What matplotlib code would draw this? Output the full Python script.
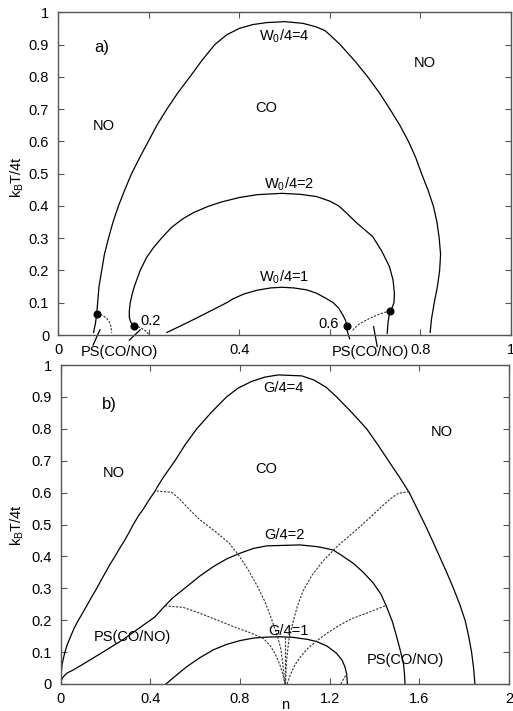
import matplotlib
matplotlib.use("Agg")
import matplotlib.pyplot as plt

plt.rcParams['font.family'] = ['Liberation Sans', 'DejaVu Sans']
plt.rcParams['mathtext.fontset'] = 'custom'
plt.rcParams['mathtext.rm'] = 'Liberation Sans'
plt.rcParams['mathtext.it'] = 'Liberation Sans'
plt.rcParams['font.size'] = 10.5

# ---------------- panel a) data ----------------
a_w4_x = [0.078, 0.082, 0.085, 0.087, 0.09, 0.096, 0.102, 0.111, 0.121, 0.133, 0.147, 0.162, 0.18,
          0.199, 0.218, 0.24, 0.264, 0.291, 0.317, 0.346, 0.372, 0.40, 0.43, 0.46, 0.50, 0.54,
          0.57, 0.59, 0.608, 0.623, 0.655, 0.684, 0.71, 0.733, 0.755, 0.774, 0.79, 0.803, 0.817,
          0.829, 0.837, 0.842, 0.845, 0.843, 0.838, 0.831, 0.825, 0.822]
a_w4_y = [0.008, 0.035, 0.065, 0.1, 0.15, 0.2, 0.25, 0.3, 0.35, 0.4, 0.45, 0.5, 0.55,
          0.6, 0.65, 0.7, 0.75, 0.8, 0.85, 0.9, 0.93, 0.95, 0.962, 0.968, 0.971, 0.966,
          0.955, 0.943, 0.92, 0.9, 0.85, 0.8, 0.75, 0.7, 0.65, 0.6, 0.55, 0.5, 0.45,
          0.4, 0.35, 0.3, 0.25, 0.2, 0.15, 0.1, 0.05, 0.008]
a_w2_x = [0.168, 0.16, 0.157, 0.157, 0.159, 0.163, 0.168, 0.181, 0.195, 0.21, 0.228, 0.25, 0.275,
          0.30, 0.33, 0.36, 0.40, 0.44, 0.494, 0.535, 0.571, 0.60, 0.62, 0.637, 0.66, 0.695, 0.715,
          0.732, 0.74, 0.743, 0.742, 0.738, 0.733, 0.729, 0.727]
a_w2_y = [0.028, 0.04, 0.055, 0.075, 0.1, 0.125, 0.15, 0.2, 0.24, 0.27, 0.3, 0.333, 0.36,
          0.38, 0.398, 0.412, 0.426, 0.435, 0.439, 0.436, 0.429, 0.415, 0.40, 0.378, 0.347, 0.305, 0.26,
          0.212, 0.17, 0.129, 0.1, 0.085, 0.075, 0.04, 0.005]
a_w1_x = [0.24, 0.27, 0.302, 0.34, 0.372, 0.386, 0.41, 0.44, 0.47, 0.494, 0.52, 0.549, 0.57,
          0.59, 0.608, 0.62, 0.629, 0.635, 0.638]
a_w1_y = [0.008, 0.028, 0.05, 0.077, 0.1, 0.112, 0.127, 0.139, 0.146, 0.148, 0.146, 0.14, 0.13,
          0.115, 0.1, 0.083, 0.062, 0.045, 0.028]

a_dash1_x = [0.085, 0.097, 0.107, 0.113, 0.1165, 0.118]
a_dash1_y = [0.065, 0.061, 0.052, 0.04, 0.026, 0.007]
a_dash2_x = [0.168, 0.18, 0.188, 0.195, 0.2]
a_dash2_y = [0.028, 0.024, 0.018, 0.01, 0.002]
a_dash3_x = [0.733, 0.71, 0.689, 0.667, 0.655, 0.649]
a_dash3_y = [0.075, 0.065, 0.052, 0.036, 0.022, 0.01]

a_dot_x = [0.085, 0.168, 0.638, 0.733]
a_dot_y = [0.065, 0.028, 0.028, 0.075]

a_ptr_x = [[0.077, 0.092], [0.157, 0.181], [0.644, 0.638], [0.705, 0.697]]
a_ptr_y = [[-0.031, 0.016], [-0.016, 0.016], [-0.012, 0.016], [-0.036, 0.026]]

a_xticks = [0, 0.2, 0.4, 0.6, 0.8, 1.0]
a_xticklabels = ['0', '', '0.4', '', '0.8', '1']

# ---------------- panel b) data ----------------
b_g4_x = [0.0, 0.002, 0.006, 0.012, 0.019, 0.03, 0.045, 0.06, 0.079, 0.1, 0.12, 0.14, 0.161, 0.18,
          0.2, 0.22, 0.242, 0.263, 0.285, 0.305, 0.324, 0.345, 0.37, 0.395, 0.421, 0.44, 0.46,
          0.485, 0.51, 0.555, 0.607, 0.67, 0.74, 0.79, 0.85, 0.91, 0.971, 1.075, 1.13, 1.185,
          1.231, 1.3, 1.365, 1.415, 1.462, 1.51, 1.555, 1.59, 1.625, 1.658, 1.69, 1.722, 1.752,
          1.78, 1.804, 1.82, 1.833, 1.842, 1.848]
b_g4_y = [0.0, 0.03, 0.06, 0.08, 0.1, 0.125, 0.15, 0.175, 0.2, 0.225, 0.25, 0.275, 0.3, 0.325,
          0.35, 0.375, 0.4, 0.425, 0.45, 0.475, 0.5, 0.525, 0.55, 0.578, 0.605, 0.628, 0.65,
          0.675, 0.7, 0.75, 0.8, 0.85, 0.9, 0.927, 0.948, 0.962, 0.969, 0.966, 0.953, 0.93,
          0.9, 0.85, 0.8, 0.75, 0.7, 0.65, 0.6, 0.55, 0.5, 0.45, 0.4, 0.35, 0.3,
          0.25, 0.2, 0.15, 0.1, 0.05, 0.0]
b_g2_x = [0.0, 0.003, 0.012, 0.03, 0.056, 0.09, 0.13, 0.2, 0.28, 0.36, 0.42, 0.465, 0.5, 0.562,
          0.62, 0.681, 0.74, 0.8, 0.86, 0.919, 1.068, 1.15, 1.216, 1.26, 1.306, 1.35, 1.395, 1.43,
          1.454, 1.48, 1.499, 1.515, 1.529, 1.534, 1.536]
b_g2_y = [0.0, 0.012, 0.023, 0.035, 0.044, 0.058, 0.075, 0.105, 0.14, 0.18, 0.21, 0.245, 0.27, 0.305,
          0.338, 0.368, 0.392, 0.41, 0.425, 0.433, 0.436, 0.43, 0.42, 0.4, 0.378, 0.35, 0.316, 0.28,
          0.242, 0.195, 0.148, 0.105, 0.065, 0.03, 0.0]
b_g1_x = [0.47, 0.52, 0.562, 0.62, 0.681, 0.74, 0.8, 0.86, 0.919, 0.98, 1.038, 1.1, 1.142, 1.19,
          1.231, 1.255, 1.268, 1.276, 1.279]
b_g1_y = [0.0, 0.03, 0.054, 0.082, 0.107, 0.124, 0.136, 0.144, 0.147, 0.148, 0.146, 0.14, 0.133, 0.118,
          0.096, 0.075, 0.054, 0.03, 0.0]

b_d1_x = [0.428, 0.495, 0.53, 0.57, 0.622, 0.69, 0.75, 0.795, 0.837, 0.875, 0.91, 0.94, 0.967, 0.982, 0.99, 1.0]
b_d1_y = [0.605, 0.601, 0.58, 0.55, 0.514, 0.478, 0.443, 0.403, 0.357, 0.31, 0.26, 0.205, 0.15, 0.11, 0.07, 0.0]
b_d2_x = [1.555, 1.506, 1.47, 1.44, 1.335, 1.231, 1.17, 1.12, 1.08, 1.055, 1.035, 1.018, 1.007, 1.003]
b_d2_y = [0.603, 0.598, 0.58, 0.561, 0.493, 0.43, 0.385, 0.34, 0.29, 0.242, 0.19, 0.138, 0.07, 0.0]
b_d3_x = [0.465, 0.547, 0.62, 0.70, 0.77, 0.84, 0.904, 0.935, 0.96, 0.978, 0.993, 1.0]
b_d3_y = [0.245, 0.24, 0.222, 0.2, 0.18, 0.162, 0.143, 0.12, 0.09, 0.06, 0.025, 0.0]
b_d4_x = [1.447, 1.365, 1.3, 1.246, 1.19, 1.142, 1.1, 1.07, 1.045, 1.025, 1.01]
b_d4_y = [0.245, 0.222, 0.205, 0.185, 0.16, 0.135, 0.11, 0.085, 0.06, 0.03, 0.0]
b_d5_x = [1.0, 1.0]
b_d5_y = [0.146, 0.0]
b_d6_x = [1.25, 1.262, 1.278]
b_d6_y = [0.0, 0.016, 0.034]

b_xticks = [0, 0.4, 0.8, 1.2, 1.6, 2.0]
b_xticklabels = ['0', '0.4', '0.8', '1.2', '1.6', '2']

yticks = [0, 0.1, 0.2, 0.3, 0.4, 0.5, 0.6, 0.7, 0.8, 0.9, 1.0]
yticklabels = ['0', '0.1', '0.2', '0.3', '0.4', '0.5', '0.6', '0.7', '0.8', '0.9', '1']

# ---------------- figure ----------------
fig = plt.figure(figsize=(5.13, 7.11), dpi=100)
ax1 = fig.add_axes([0.1136, 0.5288, 0.8819, 0.4539])
ax2 = fig.add_axes([0.1183, 0.038, 0.8739, 0.4486])

solid = dict(color='black', lw=0.9)
dash = dict(color='#333333', lw=0.8, ls=(0, (2.0, 1.3)))
spine_col = '#555555'


def style(ax, xlim, xticks, xlabels):
    ax.set_xlim(*xlim)
    ax.set_ylim(0, 1)
    ax.set_xticks(xticks)
    ax.set_xticklabels(xlabels)
    ax.set_yticks(yticks)
    ax.set_yticklabels(yticklabels)
    ax.tick_params(direction='in', top=True, right=True, length=4, width=0.8,
                   color=spine_col, labelsize=10.5)
    ax.tick_params(axis='y', pad=6.5)
    ax.tick_params(axis='x', pad=6)
    for s in ax.spines.values():
        s.set_color(spine_col)
        s.set_linewidth(1.0)


# panel a
ax1.plot(a_w4_x, a_w4_y, **solid)
ax1.plot(a_w2_x, a_w2_y, **solid)
ax1.plot(a_w1_x, a_w1_y, **solid)
ax1.plot(a_dash1_x, a_dash1_y, **dash)
ax1.plot(a_dash2_x, a_dash2_y, **dash)
ax1.plot(a_dash3_x, a_dash3_y, **dash)
ax1.plot(a_dot_x, a_dot_y, 'o', color='black', ms=4.8)
for px, py in zip(a_ptr_x, a_ptr_y):
    ax1.plot(px, py, color='black', lw=0.9, clip_on=False)
style(ax1, (0, 1), a_xticks, a_xticklabels)

ax1.text(0.096, 0.89, 'a)', fontsize=12, ha='center', va='center')
ax1.text(0.10, 0.647, 'NO', ha='center', va='center')
ax1.text(0.46, 0.704, 'CO', ha='center', va='center')
ax1.text(0.809, 0.842, 'NO', ha='center', va='center')
ax1.text(0.50, 0.927, r'W$_0$/4=4', ha='center', va='center')
ax1.text(0.51, 0.468, r'W$_0$/4=2', ha='center', va='center')
ax1.text(0.498, 0.178, r'W$_0$/4=1', ha='center', va='center')
ax1.text(0.203, 0.045, '0.2', ha='center', va='center')
ax1.text(0.598, 0.033, '0.6', ha='center', va='center')
ax1.text(0.134, -0.052, 'PS(CO/NO)', ha='center', va='center', clip_on=False)
ax1.text(0.689, -0.052, 'PS(CO/NO)', ha='center', va='center', clip_on=False)

# panel b
ax2.plot(b_g4_x, b_g4_y, **solid)
ax2.plot(b_g2_x, b_g2_y, **solid)
ax2.plot(b_g1_x, b_g1_y, **solid)
for dx, dy in [(b_d1_x, b_d1_y), (b_d2_x, b_d2_y), (b_d3_x, b_d3_y),
               (b_d4_x, b_d4_y), (b_d5_x, b_d5_y), (b_d6_x, b_d6_y)]:
    ax2.plot(dx, dy, **dash)
style(ax2, (0, 2), b_xticks, b_xticklabels)

ax2.text(0.217, 0.875, 'b)', fontsize=12, ha='center', va='center')
ax2.text(0.238, 0.662, 'NO', ha='center', va='center')
ax2.text(0.919, 0.674, 'CO', ha='center', va='center')
ax2.text(1.70, 0.791, 'NO', ha='center', va='center')
ax2.text(0.993, 0.927, 'G/4=4', ha='center', va='center')
ax2.text(1.0, 0.467, 'G/4=2', ha='center', va='center')
ax2.text(1.016, 0.167, 'G/4=1', ha='center', va='center')
ax2.text(0.321, 0.146, 'PS(CO/NO)', ha='center', va='center')
ax2.text(1.536, 0.075, 'PS(CO/NO)', ha='center', va='center')
ax2.text(1.0, -0.066, 'n', ha='center', va='center', clip_on=False)

fig.text(17.5 / 513, 1 - 177 / 711, r'k$_\mathrm{B}$T/4t', rotation=90, ha='center', va='center')
fig.text(17.5 / 513, 1 - 525 / 711, r'k$_\mathrm{B}$T/4t', rotation=90, ha='center', va='center')

fig.savefig('out.png', dpi=100)
